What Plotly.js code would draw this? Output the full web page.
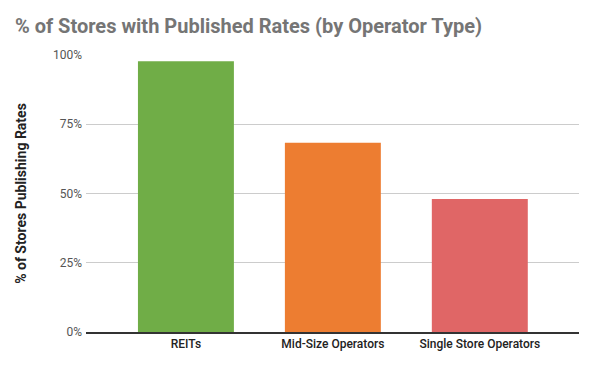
<!DOCTYPE html>
<html>
<head>
<meta charset="utf-8">
<script src="https://cdn.plot.ly/plotly-3.0.1.min.js"></script>
<style>html,body{margin:0;padding:0;background:#fff;}#chart{width:597px;height:367px;}</style>
</head>
<body>
<div id="chart"></div>
<script>
const categories = ["REITs", "Mid-Size Operators", "Single Store Operators"];
const values = [0.977, 0.683, 0.480];
const colors = ["#70ad47", "#ed7d31", "#e06666"];
const yTicks = [0, 0.25, 0.5, 0.75, 1];
const yTickLabels = ["0%", "25%", "50%", "75%", "100%"];

const trace = {
  type: "bar",
  x: categories,
  y: values,
  marker: {color: colors},
  width: 0.653,
  hoverinfo: "none"
};

const layout = {
  width: 597,
  height: 367,
  margin: {l: 86, r: 18, t: 55, b: 35},
  paper_bgcolor: "#fff",
  plot_bgcolor: "#fff",
  showlegend: false,
  title: {
    text: "% of Stores with Published Rates (by Operator Type)",
    font: {family: "Roboto", size: 20, color: "#757575", weight: 700},
    x: 0.025, xanchor: "left", y: 0.93, yanchor: "middle"
  },
  xaxis: {
    range: [-0.68, 2.675],
    tickfont: {family: "Roboto", size: 12, color: "#222", weight: 500},
    showgrid: false,
    showline: true,
    linecolor: "#333",
    linewidth: 1.5,
    ticks: "",
    fixedrange: true
  },
  yaxis: {
    range: [0, 1],
    tickvals: yTicks,
    ticktext: yTickLabels,
    tickfont: {family: "Roboto", size: 12, color: "#555"},
    ticklabelstandoff: 3,
    gridcolor: "#cccccc",
    gridwidth: 1,
    zeroline: false,
    ticks: "",
    ticklen: 0,
    title: {text: "% of Stores Publishing Rates", font: {family: "Roboto", size: 14, color: "#222", weight: 700}, standoff: 23},
    fixedrange: true
  },
  bargap: 0.35
};

Plotly.newPlot("chart", [trace], layout, {displayModeBar: false, staticPlot: true});
</script>
</body>
</html>
